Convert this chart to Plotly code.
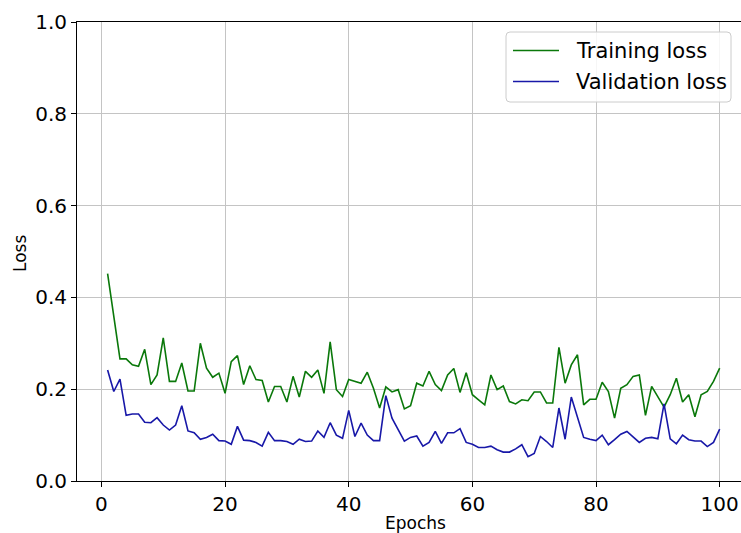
import plotly.graph_objects as go

# Per-epoch losses
epochs = list(range(1, 101))

training_loss = [
    0.452, 0.360, 0.266, 0.266, 0.253, 0.250, 0.287, 0.210, 0.231, 0.312,
    0.217, 0.217, 0.257, 0.196, 0.196, 0.300, 0.246, 0.226, 0.235, 0.191,
    0.260, 0.273, 0.210, 0.251, 0.221, 0.219, 0.172, 0.206, 0.206, 0.172,
    0.228, 0.183, 0.239, 0.226, 0.242, 0.191, 0.303, 0.199, 0.184, 0.221,
    0.217, 0.213, 0.237, 0.202, 0.159, 0.205, 0.194, 0.199, 0.157, 0.164,
    0.213, 0.207, 0.239, 0.210, 0.197, 0.231, 0.245, 0.193, 0.236, 0.188,
    0.177, 0.166, 0.231, 0.199, 0.207, 0.173, 0.168, 0.177, 0.175, 0.194,
    0.194, 0.170, 0.170, 0.291, 0.213, 0.253, 0.275, 0.166, 0.178, 0.178,
    0.215, 0.195, 0.137, 0.202, 0.210, 0.228, 0.231, 0.143, 0.206, 0.183,
    0.161, 0.188, 0.224, 0.172, 0.188, 0.140, 0.188, 0.195, 0.217, 0.246,
]

validation_loss = [
    0.242, 0.195, 0.222, 0.143, 0.146, 0.146, 0.128, 0.127, 0.138, 0.122,
    0.111, 0.122, 0.164, 0.109, 0.105, 0.091, 0.095, 0.102, 0.088, 0.087,
    0.080, 0.119, 0.089, 0.088, 0.084, 0.076, 0.106, 0.088, 0.088, 0.086,
    0.080, 0.091, 0.086, 0.087, 0.109, 0.095, 0.127, 0.100, 0.093, 0.154,
    0.097, 0.126, 0.100, 0.088, 0.088, 0.186, 0.137, 0.113, 0.087, 0.095,
    0.098, 0.076, 0.084, 0.108, 0.082, 0.105, 0.105, 0.114, 0.084, 0.080,
    0.073, 0.073, 0.076, 0.068, 0.063, 0.063, 0.070, 0.079, 0.053, 0.060,
    0.097, 0.086, 0.073, 0.159, 0.091, 0.183, 0.140, 0.095, 0.091, 0.088,
    0.100, 0.079, 0.090, 0.102, 0.108, 0.095, 0.084, 0.093, 0.095, 0.092,
    0.168, 0.092, 0.081, 0.100, 0.090, 0.087, 0.087, 0.075, 0.084, 0.113,
]

x_ticks = [0, 20, 40, 60, 80, 100]
y_ticks = [0.0, 0.2, 0.4, 0.6, 0.8, 1.0]

series_names = ["Training loss", "Validation loss"]
series_colors = ["#0a780a", "#1818a8"]

FONT = "DejaVu Sans"
W, H = 741, 533
ML, MR, MT, MB = 77, 0, 22, 52
PW, PH = W - ML - MR, H - MT - MB


def px(xp):
    """Pixel column -> paper x."""
    return (xp - ML) / PW


def py(yp):
    """Pixel row -> paper y."""
    return (H - MB - yp) / PH


fig = go.Figure()
for name, color, values in zip(series_names, series_colors,
                               [training_loss, validation_loss]):
    fig.add_trace(go.Scatter(
        x=epochs, y=values, mode="lines", name=name,
        line=dict(color=color, width=1.6), showlegend=False,
    ))

axis_common = dict(
    showgrid=True, gridcolor="#c4c4c4", gridwidth=1,
    showline=True, linecolor="black", linewidth=1,
    ticks="outside", ticklen=5, tickwidth=1, tickcolor="black",
    tickfont=dict(family=FONT, size=20, color="black"),
    zeroline=False,
)

# Legend box with rounded corners
bx0, bx1, by0, by1, r = 506, 731, 32, 102, 4
rx, ry = r / PW, r / PH
X0, X1, Y0, Y1 = px(bx0), px(bx1), py(by1), py(by0)
box_path = (
    f"M{X0 + rx},{Y0} L{X1 - rx},{Y0} Q{X1},{Y0} {X1},{Y0 + ry} "
    f"L{X1},{Y1 - ry} Q{X1},{Y1} {X1 - rx},{Y1} "
    f"L{X0 + rx},{Y1} Q{X0},{Y1} {X0},{Y1 - ry} "
    f"L{X0},{Y0 + ry} Q{X0},{Y0} {X0 + rx},{Y0} Z"
)
shapes = [dict(type="path", path=box_path, xref="paper", yref="paper",
               line=dict(color="#cccccc", width=1),
               fillcolor="rgba(255,255,255,0.85)", layer="above")]

annotations = [
    dict(text="Epochs", xref="paper", yref="paper",
         x=px(415), y=py(523), xanchor="center", yanchor="middle",
         showarrow=False, font=dict(family=FONT, size=17, color="black")),
    dict(text="Loss", xref="paper", yref="paper",
         x=px(19.5), y=py(253.5), xanchor="center", yanchor="middle",
         showarrow=False, textangle=-90,
         font=dict(family=FONT, size=17, color="black")),
]

for i, (name, color) in enumerate(zip(series_names, series_colors)):
    row_y = 50.5 + 31 * i
    shapes.append(dict(type="line", xref="paper", yref="paper",
                       x0=px(513), x1=px(559), y0=py(row_y), y1=py(row_y),
                       line=dict(color=color, width=1.7), layer="above"))
    annotations.append(dict(text=name, xref="paper", yref="paper",
                            x=px(574), y=py(row_y), xanchor="left",
                            yanchor="middle", showarrow=False,
                            font=dict(family=FONT, size=21, color="black")))

fig.update_layout(
    width=W, height=H,
    margin=dict(l=ML, r=MR, t=MT, b=MB),
    paper_bgcolor="white", plot_bgcolor="white",
    font=dict(family=FONT, color="black"),
    showlegend=False,
    xaxis=dict(range=[-3.95, 103.45], tickvals=x_ticks, mirror=True, **axis_common),
    yaxis=dict(range=[0, 1], tickvals=y_ticks, tickformat=".1f", **axis_common),
    shapes=shapes,
    annotations=annotations,
)

fig.write_html("out.html")
